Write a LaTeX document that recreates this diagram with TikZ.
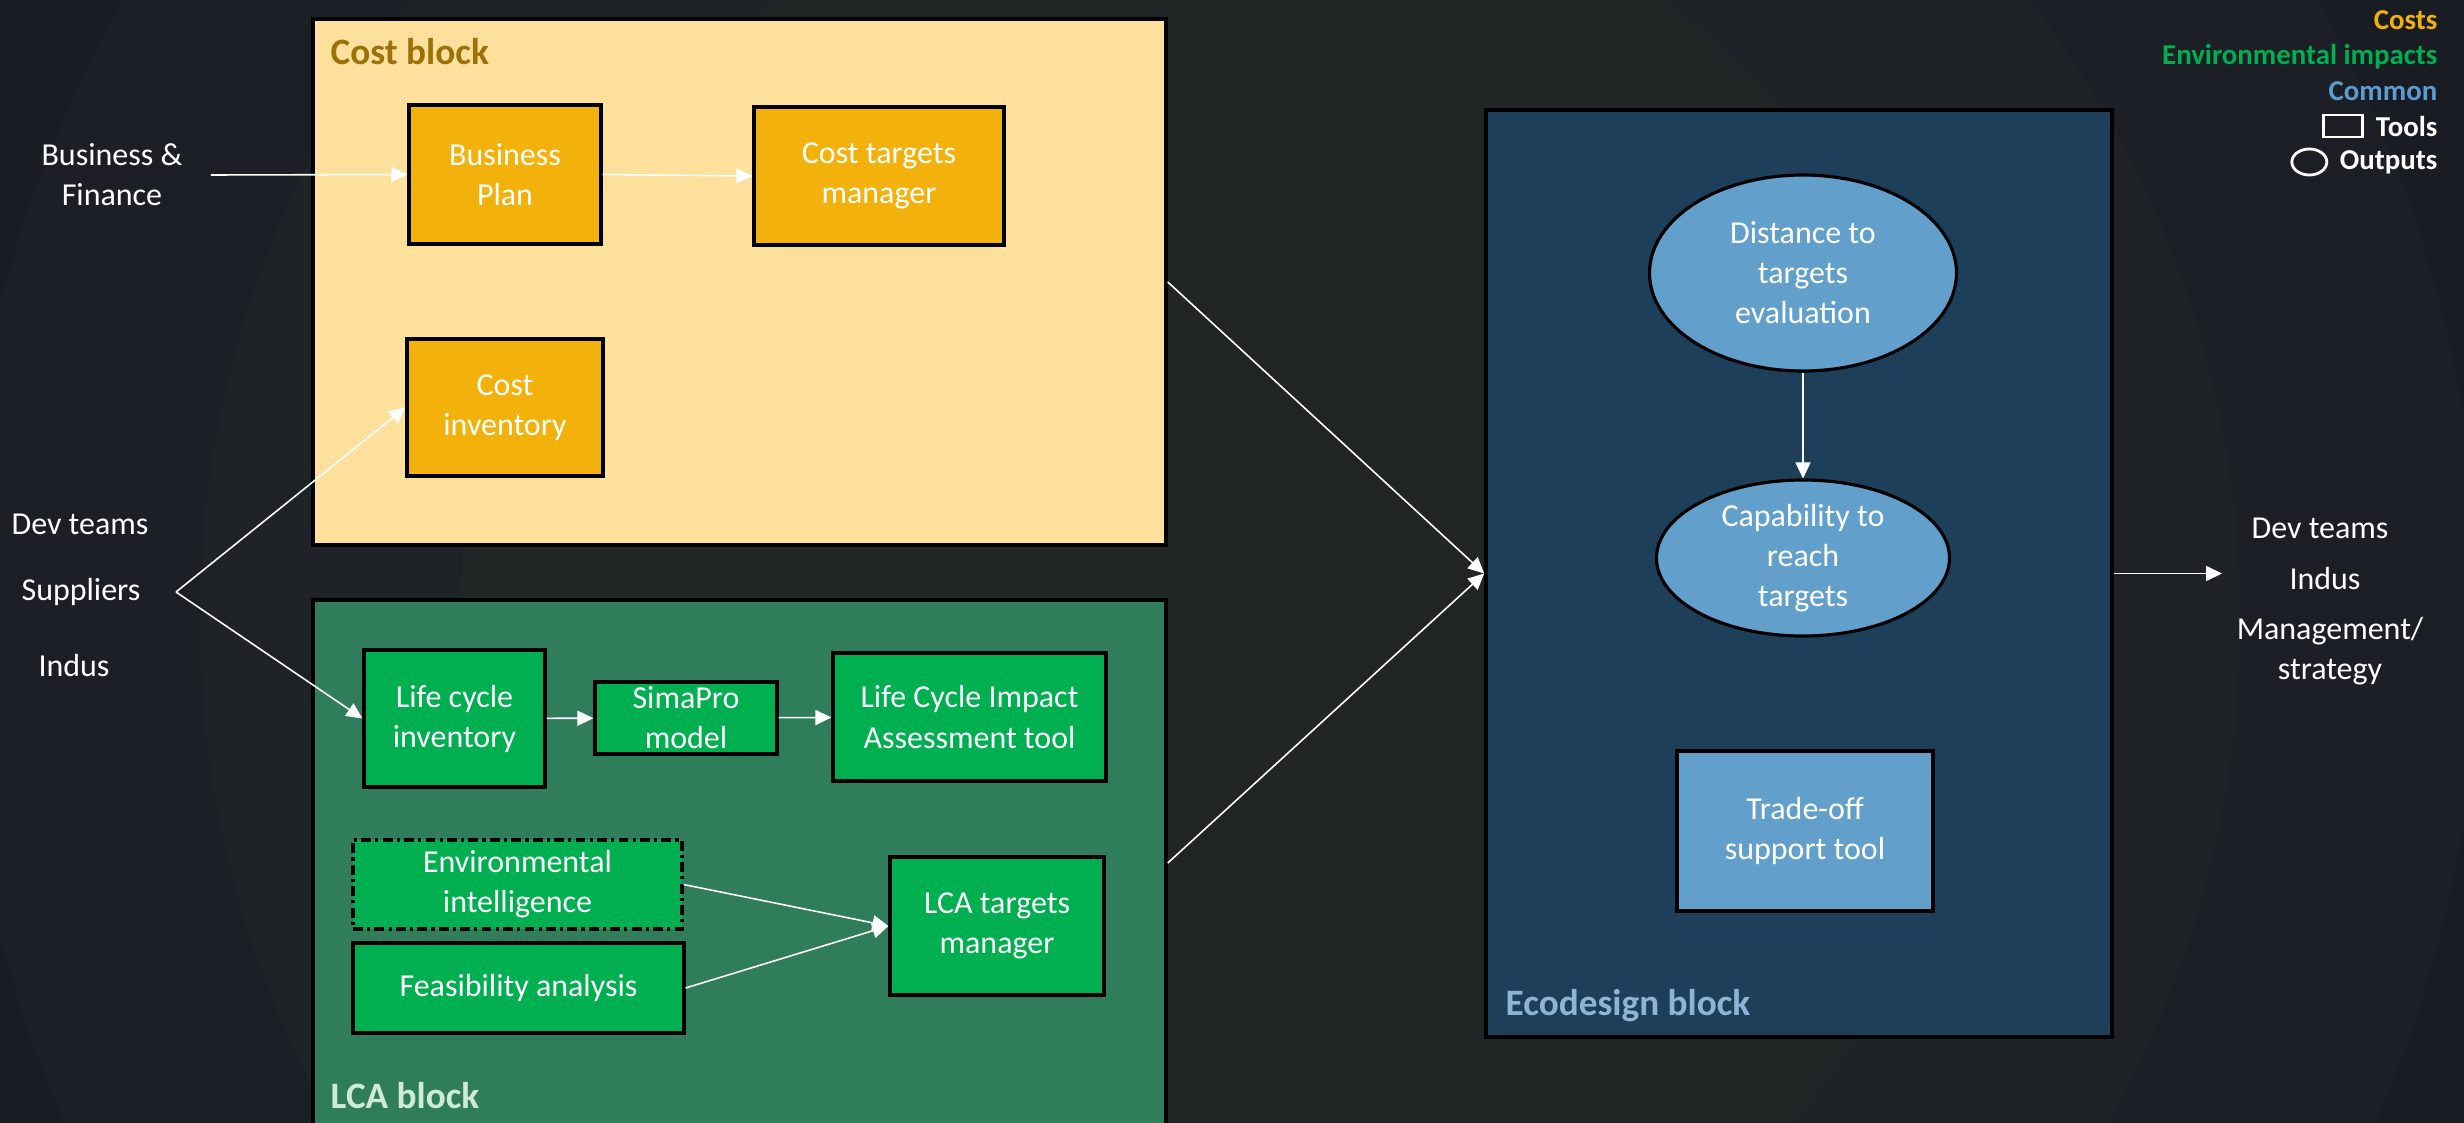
\documentclass[tikz,border=0pt]{standalone}
\usepackage{fontspec}
\setmainfont{Carlito}
\usetikzlibrary{
    arrows.meta,
    positioning,
    shapes.geometric,
}

\definecolor{bgdark}{HTML}{1A1C23}
\definecolor{bgringa}{HTML}{1C1F25}
\definecolor{bgringb}{HTML}{1F2226}
\definecolor{bgringc}{HTML}{212526}
\definecolor{costback}{HTML}{FCE09B}
\definecolor{costtool}{HTML}{F3B10C}
\definecolor{costtitle}{HTML}{9C7109}
\definecolor{lcaback}{HTML}{307D5B}
\definecolor{lcatool}{HTML}{00AF50}
\definecolor{lcatitle}{HTML}{CDEBD6}
\definecolor{ecoback}{HTML}{1E3F5A}
\definecolor{ecotool}{HTML}{62A0CB}
\definecolor{ecotitle}{HTML}{8DB3D5}
\definecolor{commonblue}{HTML}{5C9CD2}

\begin{document}
\begin{tikzpicture}[
    x=1cm, y=-1cm,
    font=\fontsize{9.1}{11.4}\selectfont,
    block/.style={draw=black, line width=1pt, inner sep=0pt},
    blocktitle/.style={anchor=west, inner sep=0pt, font=\fontsize{10.6}{12}\selectfont\bfseries},
    tool/.style={draw=black, line width=0.9pt, text=white, align=center, inner sep=0pt},
    outcome/.style={ellipse, draw=black, line width=0.9pt, fill=ecotool, text=white, align=center, inner sep=0pt},
    actor/.style={text=white, align=center},
    legendtext/.style={anchor=east, inner sep=0pt, font=\fontsize{8.2}{10}\selectfont\bfseries},
    flow/.style={-{Triangle[length=1.6mm,width=1.5mm]}, white, line width=0.45pt},
]

\useasboundingbox (0,0) rectangle (24.64,11.23);

% Background
\fill[bgdark] (0,0) rectangle (24.64,11.23);
\begin{scope}
    \clip (0,0) rectangle (24.64,11.23);
    \fill[bgringa] (12.2,6.2) circle (12.6);
    \fill[bgringb] (12.2,6.2) circle (10.2);
    \fill[bgringc] (12.2,6.2) circle (7.6);
\end{scope}

% Blocks
\node[block, fill=costback, minimum width=8.53cm, minimum height=5.26cm] (costblk) at (7.395,2.82) {};
\node[block, fill=lcaback, minimum width=8.53cm, minimum height=5.26cm] (lcablk) at (7.395,8.63) {};
\node[block, fill=ecoback, minimum width=6.26cm, minimum height=9.27cm] (ecoblk) at (17.99,5.735) {};

\node[blocktitle, text=costtitle] (costtitle) at (3.30,0.52) {Cost block};
\node[blocktitle, text=lcatitle] (lcatitle) at (3.30,10.96) {LCA block};
\node[blocktitle, text=ecotitle] (ecotitle) at (15.05,10.06) {Ecodesign block};

% Cost tools
\node[tool, fill=costtool, minimum width=1.92cm, minimum height=1.39cm] (bplan) at (5.05,1.745) {Business\\Plan};
\node[tool, fill=costtool, minimum width=2.50cm, minimum height=1.38cm] (ctm) at (8.79,1.76) {Cost targets\\manager};
\node[tool, fill=costtool, minimum width=1.96cm, minimum height=1.37cm] (cinv) at (5.05,4.075) {Cost\\inventory};

% LCA tools
\node[tool, fill=lcatool, minimum width=1.81cm, minimum height=1.37cm] (lci) at (4.545,7.185) {Life cycle\\inventory};
\node[tool, fill=lcatool, minimum width=1.82cm, minimum height=0.72cm] (sima) at (6.86,7.18) {SimaPro\\model};
\node[tool, fill=lcatool, minimum width=2.73cm, minimum height=1.28cm] (lcia) at (9.695,7.17) {Life Cycle Impact\\Assessment tool};
\node[tool, fill=lcatool, dash pattern=on 2.8pt off 1.2pt on 0.9pt off 1.2pt, minimum width=3.29cm, minimum height=0.89cm] (envint) at (5.175,8.845) {Environmental\\intelligence};
\node[tool, fill=lcatool, minimum width=3.31cm, minimum height=0.90cm] (feas) at (5.185,9.88) {Feasibility analysis};
\node[tool, fill=lcatool, minimum width=2.14cm, minimum height=1.38cm] (lcatm) at (9.97,9.26) {LCA targets\\manager};

% Ecodesign outputs and tool
\node[outcome, minimum width=3.07cm, minimum height=1.96cm] (dist) at (18.03,2.73) {Distance to\\targets\\evaluation};
\node[outcome, minimum width=2.93cm, minimum height=1.56cm] (capab) at (18.03,5.58) {Capability to\\reach\\targets};
\node[tool, fill=ecotool, minimum width=2.56cm, minimum height=1.60cm] (tradeoff) at (18.05,8.31) {Trade-off\\support tool};

% Actors
\node[actor] (busfin) at (1.12,1.75) {Business \&\\Finance};
\node[actor] (devteams) at (0.80,5.24) {Dev teams};
\node[actor] (suppliers) at (0.81,5.92) {Suppliers};
\node[actor] (indus) at (0.74,6.66) {Indus};
\coordinate (supjoin) at (1.76,5.92);

\node[actor] (devteamsout) at (23.20,5.28) {Dev teams};
\node[actor] (indusout) at (23.25,5.79) {Indus};
\node[actor] (mgmtout) at (23.30,6.51) {Management/\\strategy};
\coordinate (outend) at (22.22,5.735);

% Legend
\node[legendtext, text=costtool] (legcost) at (24.38,0.20) {Costs};
\node[legendtext, text=lcatool] (legenv) at (24.38,0.57) {Environmental impacts};
\node[legendtext, text=commonblue] (legcommon) at (24.38,0.91) {Common};
\node[legendtext, text=white] (legtools) at (24.38,1.26) {Tools};
\node[legendtext, text=white] (legoutputs) at (24.38,1.62) {Outputs};
\node[draw=white, line width=0.8pt, inner sep=0pt, minimum width=0.39cm, minimum height=0.22cm, left=1.1mm of legtools] (legtoolicon) {};
\node[ellipse, draw=white, line width=0.8pt, inner sep=0pt, minimum width=0.35cm, minimum height=0.26cm, left=1.1mm of legoutputs] (legoutputicon) {};

% Lines
\draw[flow] (busfin.east) ++(0.16,0) -- (bplan.west);
\draw[flow] (bplan.east) -- (ctm.west);
\draw[flow] (supjoin) -- (cinv.west);
\draw[flow] (supjoin) -- (lci.west);
\draw[flow] (lci) -- (sima);
\draw[flow] (sima) -- (lcia);
\draw[flow] (envint.east) -- (lcatm.west);
\draw[flow] (feas.east) -- (lcatm.west);
\draw[flow] (costblk.east) -- (ecoblk.west);
\draw[flow] (lcablk.east) -- (ecoblk.west);
\draw[flow] (dist) -- (capab);
\draw[flow] (ecoblk.east) -- (outend);

\end{tikzpicture}
\end{document}
